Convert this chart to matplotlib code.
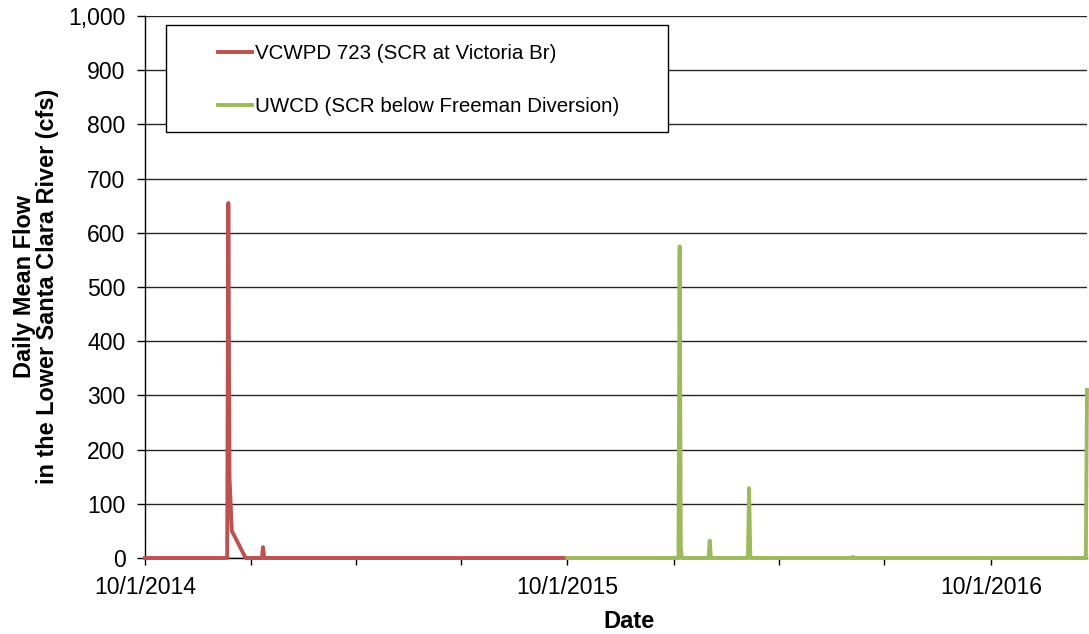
import numpy as np
import matplotlib
matplotlib.use("Agg")
import matplotlib.pyplot as plt
import matplotlib.dates as mdates
from matplotlib.ticker import FuncFormatter, MultipleLocator
from matplotlib.patches import Rectangle

plt.rcParams['font.family'] = ['Liberation Sans', 'DejaVu Sans']

# ---- data ----
vcwpd_dates = np.array(['2014-10-01', '2014-12-11', '2014-12-12', '2014-12-13', '2014-12-15',
                        '2014-12-27', '2015-01-10', '2015-01-11', '2015-01-12', '2015-10-01'],
                       dtype='datetime64[D]')
vcwpd_flow = [0, 0, 655, 150, 50, 0, 0, 20, 0, 0]

uwcd_dates = np.array(['2015-10-01', '2016-01-05', '2016-01-06', '2016-01-07', '2016-01-08',
                       '2016-01-31', '2016-02-01', '2016-02-02', '2016-03-05', '2016-03-06',
                       '2016-03-07', '2016-03-08', '2016-06-03', '2016-06-04', '2016-06-05',
                       '2016-12-22', '2016-12-23'],
                      dtype='datetime64[D]')
uwcd_flow = [0, 0, 575, 20, 0, 0, 32, 0, 0, 129, 5, 0, 0, 2, 0, 0, 310]

series_labels = ['VCWPD 723 (SCR at Victoria Br)', 'UWCD (SCR below Freeman Diversion)']
series_colors = ['#C0504D', '#9BBB59']

x_start = np.datetime64('2014-10-01')
x_end = np.datetime64('2016-12-23')
y_max = 1000

# ---- figure ----
fig = plt.figure(figsize=(10.89, 6.34), dpi=100)
ax = fig.add_axes([145/1089, 1-558/634, (1087-145)/1089, (558-16)/634])

ax.plot(vcwpd_dates, vcwpd_flow, color=series_colors[0], lw=2.8, label=series_labels[0],
        solid_joinstyle='round', zorder=3, clip_on=False)
ax.plot(uwcd_dates, uwcd_flow, color=series_colors[1], lw=2.8, label=series_labels[1],
        solid_joinstyle='round', zorder=3, clip_on=False)

ax.set_xlim(x_start, x_end)
ax.set_ylim(0, y_max)

ax.xaxis.set_major_locator(mdates.MonthLocator(bymonth=[10], bymonthday=1))
ax.xaxis.set_minor_locator(mdates.MonthLocator(bymonth=[1, 4, 7], bymonthday=1))
ax.xaxis.set_major_formatter(FuncFormatter(
    lambda v, p: (lambda d: f"{d.month}/{d.day}/{d.year}")(mdates.num2date(v))))
ax.yaxis.set_major_locator(MultipleLocator(100))
ax.yaxis.set_major_formatter(FuncFormatter(lambda v, p: f"{int(v):,}"))

ax.grid(axis='y', color='#262626', lw=1.0, zorder=1)
ax.set_axisbelow(True)
for s in ['top', 'right']:
    ax.spines[s].set_visible(False)
for s in ['left', 'bottom']:
    ax.spines[s].set_color('black')
    ax.spines[s].set_linewidth(1.0)

ax.tick_params(axis='y', which='major', direction='out', length=6, width=1,
               labelsize=16.6, pad=8)
ax.tick_params(axis='x', which='major', direction='out', length=5, width=1,
               labelsize=16.6, pad=8)
ax.tick_params(axis='x', which='minor', direction='out', length=5, width=1)

fig.text(36/1089, 1-286/634, 'Daily Mean Flow\nin the Lower Santa Clara River (cfs)',
         rotation=90, ha='center', va='center', fontsize=16.9, fontweight='bold',
         linespacing=0.95)
fig.text(629/1089, 1-621/634, 'Date', ha='center', va='center', fontsize=17,
         fontweight='bold')

# legend box
ax.add_patch(Rectangle(((166-145)/942, (558-132)/542), (668-166)/942, (132-25)/542,
                       transform=ax.transAxes, facecolor='white', edgecolor='black',
                       lw=1.0, zorder=4))
leg = ax.legend(loc='upper left', bbox_to_anchor=((218-145)/942, (558-44)/542),
                frameon=False, fontsize=14.8, borderpad=0, borderaxespad=0,
                labelspacing=1.65, handlelength=1.65, handletextpad=0.15)
leg.set_zorder(5)

fig.savefig('out.png', dpi=100)
